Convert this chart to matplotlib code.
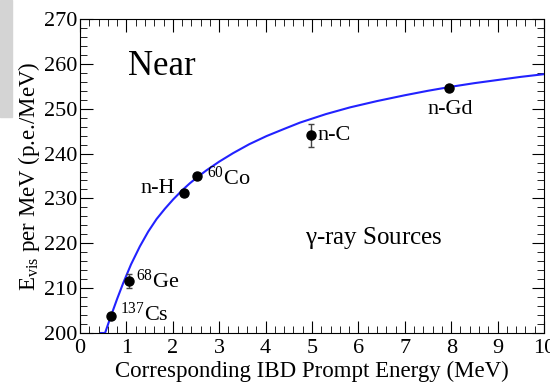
import numpy as np
import matplotlib.pyplot as plt
from matplotlib.patches import Rectangle
from matplotlib.ticker import MultipleLocator

# source points
src_names = [r'$^{137}$Cs', r'$^{68}$Ge', 'n-H', r'$^{60}$Co', 'n-C', 'n-Gd']
src_e = [0.66, 1.05, 2.24, 2.52, 4.98, 7.95]
src_y = [203.9, 211.6, 231.2, 235.1, 244.1, 254.6]
src_err = [0.6, 1.5, 0.6, 0.6, 2.6, 0.6]

# fitted curve
curve_e = [0.45, 0.54, 0.65, 0.8, 0.93, 1.1, 1.29, 1.47, 1.65, 1.83, 2.01, 2.2,
           2.37, 2.55, 2.73, 3.0, 3.3, 3.65, 4.02, 4.4, 4.74, 5.3, 5.82, 6.4,
           7.0, 7.5, 8.0, 8.5, 9.0, 9.5, 10.0]
curve_y = [200.0, 200.0, 203.3, 207.6, 211.1, 215.3, 219.3, 222.6, 225.4, 227.7,
           229.8, 231.8, 233.4, 234.9, 236.3, 238.2, 240.1, 242.1, 243.9, 245.5,
           246.9, 248.8, 250.3, 251.7, 253.0, 254.0, 254.9, 255.7, 256.4, 257.1,
           257.7]

plt.rcParams['font.family'] = ['Liberation Serif', 'DejaVu Serif']
plt.rcParams['mathtext.fontset'] = 'custom'
plt.rcParams['mathtext.rm'] = 'Liberation Serif'
plt.rcParams['mathtext.it'] = 'Liberation Serif'

fig = plt.figure(figsize=(5.5, 3.83), dpi=100)
fig.patches.append(Rectangle((0, 1 - 117/383), 12/550, 117/383,
                             transform=fig.transFigure, color='#d4d4d4', zorder=0))
ax = fig.add_axes([80/550, 50/383, 464/550, 314/383])

ax.plot(curve_e, curve_y, color='#2222ff', lw=1.5, zorder=2,
        solid_joinstyle='round')
ax.errorbar(src_e, src_y, yerr=src_err, fmt='o', color='black', ms=6.5,
            ecolor='#444444', elinewidth=1, capsize=2, zorder=3)

# labels next to each point
lab_fs = 16
ax.text(2.05, 232.3, 'n-H', ha='right', va='center', fontsize=lab_fs)
ax.text(2.73, 234.4, r'$^{60}$Co', ha='left', va='center', fontsize=lab_fs)
ax.text(5.12, 244.1, 'n-C', ha='left', va='center', fontsize=lab_fs)
ax.text(7.97, 249.9, 'n-Gd', ha='center', va='center', fontsize=lab_fs)
ax.text(1.2, 211.6, r'$^{68}$Ge', ha='left', va='center', fontsize=lab_fs)
ax.text(0.86, 204.1, r'$^{137}$Cs', ha='left', va='center', fontsize=lab_fs)

ax.text(1.03, 259.5, 'Near', ha='left', va='center', fontsize=25)
ax.text(4.85, 221.2, r'$\gamma$-ray Sources', ha='left', va='center', fontsize=18)

ax.set_xlim(0, 10)
ax.set_ylim(200, 270)
ax.xaxis.set_major_locator(MultipleLocator(1))
ax.xaxis.set_minor_locator(MultipleLocator(0.2))
ax.yaxis.set_major_locator(MultipleLocator(10))
ax.yaxis.set_minor_locator(MultipleLocator(2))
ax.tick_params(which='both', direction='in', top=True, right=True, labelsize=16, pad=2)
ax.tick_params(axis='x', which='both', pad=4)
ax.tick_params(which='major', length=9)
ax.tick_params(which='minor', length=5)
ax.set_xlabel('Corresponding IBD Prompt Energy (MeV)', fontsize=16.5, labelpad=2)
ax.set_ylabel(r'E$_{\rm vis}$ per MeV (p.e./MeV)', fontsize=16.5, labelpad=1)

fig.savefig('out.png', dpi=100)
